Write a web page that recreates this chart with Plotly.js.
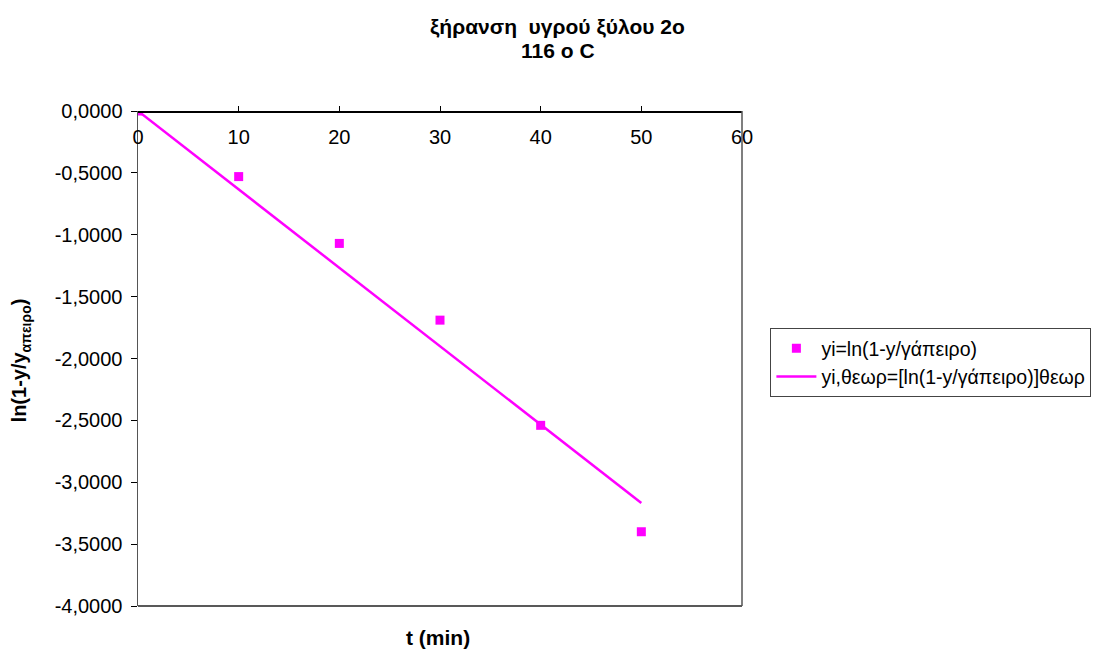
<!DOCTYPE html>
<html>
<head>
<meta charset="utf-8">
<script src="https://cdn.plot.ly/plotly-3.0.1.min.js"></script>
<style>html,body{margin:0;padding:0;background:#fff;}#chart{width:1097px;height:657px;}</style>
</head>
<body>
<div id="chart"></div>
<script>
var tMin = [0, 10, 20, 30, 40, 50];
var yMeasured = [0, -0.53, -1.07, -1.69, -2.54, -3.40];
var yTheory = [0, -0.634, -1.267, -1.901, -2.534, -3.168];
var seriesNames = ["yi=ln(1-y/γάπειρο)", "yi,θεωρ=[ln(1-y/γάπειρο)]θεωρ"];
var xTicks = [0, 10, 20, 30, 40, 50, 60];
var yTicks = [0, -0.5, -1, -1.5, -2, -2.5, -3, -3.5, -4];
var yTickLabels = ["0,0000", "-0,5000", "-1,0000", "-1,5000", "-2,0000", "-2,5000", "-3,0000", "-3,5000", "-4,0000"];

var font = "Liberation Sans, Arial, sans-serif";
var traces = [
  {x: tMin, y: yMeasured, mode: "markers", type: "scatter", name: seriesNames[0],
   marker: {symbol: "square", size: 9, color: "#FF00FF"}},
  {x: tMin, y: yTheory, mode: "lines", type: "scatter", name: seriesNames[1],
   line: {color: "#FF00FF", width: 2.5}}
];
var layout = {
  width: 1097, height: 657,
  margin: {l: 138, r: 355, t: 111, b: 51, autoexpand: false},
  paper_bgcolor: "#fff", plot_bgcolor: "#fff",
  font: {family: font, size: 20, color: "#000"},
  showlegend: true,
  legend: {x: 1.047, y: 0.5616, xanchor: "left", yanchor: "top",
           bordercolor: "#444", borderwidth: 1, font: {family: font, size: 19.5},
           tracegroupgap: 0, itemwidth: 40},
  xaxis: {range: [0, 60], tickvals: xTicks, ticks: "inside", ticklen: 5, tickcolor: "#000",
          side: "bottom", anchor: "free", position: 1, showgrid: false, zeroline: false,
          showline: true, linecolor: "#000", linewidth: 1.5, tickfont: {size: 20}, fixedrange: true,
          ticklabelstandoff: 7},
  yaxis: {range: [-4, 0], tickvals: yTicks, ticktext: yTickLabels, ticks: "outside", ticklen: 6,
          tickcolor: "#000", showgrid: false, zeroline: false, showline: true, linecolor: "#555",
          linewidth: 1.5, tickfont: {size: 20}, ticklabelstandoff: 4},
  shapes: [
    {type: "line", xref: "paper", yref: "paper", x0: 0, x1: 1, y0: 0, y1: 0, line: {color: "#222", width: 1.5}},
    {type: "line", xref: "paper", yref: "paper", x0: 1, x1: 1, y0: 0, y1: 1, line: {color: "#555", width: 1.5}}
  ],
  annotations: [
    {text: "<b>ξήρανση  υγρού ξύλου 2ο</b>", xref: "paper", yref: "paper", x: 0.695, y: 1.170,
     xanchor: "center", yanchor: "middle", showarrow: false, font: {size: 21}},
    {text: "<b>116 ο C</b>", xref: "paper", yref: "paper", x: 0.695, y: 1.123,
     xanchor: "center", yanchor: "middle", showarrow: false, font: {size: 21}},
    {text: "<b>t (min)</b>", xref: "paper", yref: "paper", x: 0.497, y: -0.063,
     xanchor: "center", yanchor: "middle", showarrow: false, font: {size: 21}},
    {text: "<b>ln(1-y/y<sub>απειρο</sub>)</b>", xref: "paper", yref: "paper", x: -0.193, y: 0.497,
     xanchor: "center", yanchor: "middle", showarrow: false, textangle: -90, font: {size: 20}}
  ]
};
Plotly.newPlot("chart", traces, layout, {displayModeBar: false, staticPlot: true});
</script>
</body>
</html>
